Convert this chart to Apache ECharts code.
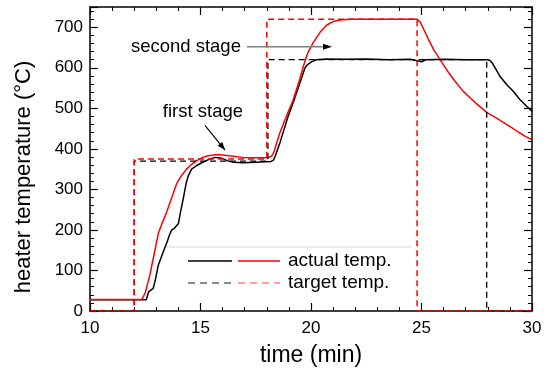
<!DOCTYPE html>
<html>
<head>
<meta charset="utf-8">
<script src="https://cdn.jsdelivr.net/npm/echarts@6/dist/echarts.min.js"></script>
<style>
html,body{margin:0;padding:0;background:#fff;}
#c{width:546px;height:372px;}
</style>
</head>
<body>
<div id="c"></div>
<script>
// ---- data ----
var xTicks = [10, 15, 20, 25, 30];
var yTicks = [0, 100, 200, 300, 400, 500, 600, 700];

var blackActualTime = [10, 12.55, 12.6, 12.65, 12.72, 12.86, 12.95, 13.09, 13.32, 13.5, 13.62, 13.7, 13.8, 14.0, 14.1, 14.22, 14.35, 14.45, 14.6, 14.83, 15.1, 15.34, 15.66, 15.97, 16.2, 16.5, 16.9, 17.5, 18.2, 18.3, 18.4, 18.6, 18.97, 19.2, 19.45, 19.73, 19.85, 20.0, 20.24, 20.7, 21.5, 22.5, 23.5, 24.5, 25.0, 25.2, 26.0, 27.0, 28.0, 28.1, 28.2, 28.35, 28.55, 28.85, 29.15, 29.45, 29.76, 30];
var blackActualTemp = [28, 28, 38, 47, 50, 56, 75, 113, 147, 172, 191, 200, 203, 216, 245, 277, 315, 334, 350, 359, 367, 373, 379, 377, 371, 367, 366, 367, 369, 372, 385, 416, 481, 515, 555, 600, 608, 614, 620, 622, 621, 622, 620, 621, 615, 620, 621, 620, 620, 618, 612, 598, 579, 559, 542, 522, 505, 493];

var redActualTime = [10, 12.35, 12.42, 12.5, 12.71, 12.9, 13.09, 13.25, 13.47, 13.7, 13.92, 14.15, 14.37, 14.6, 14.83, 15.1, 15.34, 15.8, 16.3, 16.9, 17.5, 17.9, 18.1, 18.22, 18.32, 18.45, 18.6, 18.9, 19.2, 19.45, 19.65, 19.85, 20.1, 20.4, 20.7, 21.0, 21.3, 21.8, 24.8, 24.88, 24.95, 25.1, 25.3, 25.55, 25.84, 26.24, 26.5, 26.87, 27.2, 27.5, 27.95, 28.4, 28.77, 29.1, 29.4, 29.7, 30];
var redActualTemp = [28.5, 28.5, 32, 45, 89, 140, 191, 215, 244, 280, 314, 335, 350, 362, 371, 379, 383, 386, 383, 379, 378, 378, 379, 382, 392, 415, 441, 482, 522, 565, 603, 636, 662, 687, 705, 714, 718, 720, 720, 718, 712, 695, 672, 645, 620, 587, 568, 543, 526, 511, 490, 476, 463, 452, 441, 431, 422];

var blackTargetTime = [10, 12, 12, 18.05, 18.05, 27.95, 27.95, 30];
var blackTargetTemp = [0, 0, 370, 370, 620, 620, 0, 0];
var redTargetTime = [10, 12, 12, 18, 18, 24.8, 24.8, 30];
var redTargetTemp = [0, 0, 375, 375, 720, 720, 0, 0];

var legendLabels = ['actual temp.', 'target temp.'];
var annotationLabels = ['second stage', 'first stage'];

function zip(a, b) { return a.map(function (v, i) { return [v, b[i]]; }); }

var FONT = '"Liberation Sans", Arial, sans-serif';
var chart = echarts.init(document.getElementById('c'), null, { renderer: 'canvas' });

var axisCommon = {
  axisLine: { show: true, onZero: false, lineStyle: { color: '#000', width: 1.5 } },
  axisTick: { show: true, inside: true, length: 8, lineStyle: { color: '#000', width: 1.2 } },
  minorTick: { show: true, splitNumber: 5, length: 4, lineStyle: { color: '#000', width: 1 } },
  splitLine: { show: false }
};

var option = {
  backgroundColor: '#fff',
  animation: false,
  grid: { left: 90, right: 14, top: 7, bottom: 59, containLabel: false },
  xAxis: [
    Object.assign({}, axisCommon, {
      type: 'value', min: 10, max: 30, interval: 5, position: 'bottom',
      name: 'time (min)', nameLocation: 'middle', nameGap: 33,
      nameTextStyle: { fontFamily: FONT, fontSize: 23, color: '#000' },
      axisLabel: { show: true, margin: 9, fontFamily: FONT, fontSize: 17, color: '#000' }
    }),
    Object.assign({}, axisCommon, {
      type: 'value', min: 10, max: 30, interval: 5, position: 'top',
      axisLabel: { show: false }
    })
  ],
  yAxis: [
    Object.assign({}, axisCommon, {
      type: 'value', min: 0, max: 750, interval: 100, position: 'left',
      name: 'heater temperature (°C)', nameLocation: 'middle', nameGap: 55,
      nameTextStyle: { fontFamily: FONT, fontSize: 22, color: '#000', padding: [0, 36, 0, 0] },
      axisLabel: { show: true, margin: 7, fontFamily: FONT, fontSize: 17, color: '#000', showMaxLabel: false,
        formatter: function (v) { return yTicks.indexOf(v) >= 0 ? String(v) : ''; } }
    }),
    Object.assign({}, axisCommon, {
      type: 'value', min: 0, max: 750, interval: 100, position: 'right',
      axisLabel: { show: false }
    })
  ],
  series: [
    { type: 'line', name: 'black actual', data: zip(blackActualTime, blackActualTemp), showSymbol: false,
      smooth: false, lineStyle: { color: '#000', width: 1.5, join: 'round' }, z: 2 },
    { type: 'line', name: 'red actual', data: zip(redActualTime, redActualTemp), showSymbol: false,
      smooth: false, lineStyle: { color: '#ff0000', width: 1.5, join: 'round' }, z: 3 },
    { type: 'line', name: 'black target', data: zip(blackTargetTime, blackTargetTemp), showSymbol: false,
      lineStyle: { color: '#000', width: 1.3, type: [6, 4] }, z: 4 },
    { type: 'line', name: 'red target', data: zip(redTargetTime, redTargetTemp), showSymbol: false,
      lineStyle: { color: '#ff0000', width: 1.5, type: [6, 4] }, z: 5 }
  ]
};
chart.setOption(option);

function px(t, T) { return chart.convertToPixel({ xAxisIndex: 0, yAxisIndex: 0 }, [t, T]); }
function arrowHead(from, to, len, half, color) {
  var dx = to[0] - from[0], dy = to[1] - from[1];
  var d = Math.sqrt(dx * dx + dy * dy); var ux = dx / d, uy = dy / d;
  var bx = to[0] - ux * len, by = to[1] - uy * len;
  return { type: 'polygon', shape: { points: [to, [bx - uy * half, by + ux * half], [bx + uy * half, by - ux * half]] },
    style: { fill: color }, z: 100 };
}

// annotations (anchored in data coordinates)
var secondTxt = px(14.34, 652);
var secondFrom = px(17.1, 652), secondTo = px(20.95, 652);
var firstTxt = px(15.11, 490);
var firstFrom = px(15.2, 458), firstTo = px(16.11, 397);

var graphics = [
  { type: 'text', x: secondTxt[0], y: secondTxt[1], style: { text: annotationLabels[0], font: '18.5px ' + FONT, fill: '#000', align: 'center', verticalAlign: 'middle' }, z: 100 },
  { type: 'line', shape: { x1: secondFrom[0], y1: secondFrom[1], x2: secondTo[0] - 6, y2: secondTo[1] }, style: { stroke: '#808080', lineWidth: 1.5 }, z: 100 },
  arrowHead(secondFrom, secondTo, 9, 3, '#000'),
  { type: 'text', x: firstTxt[0], y: firstTxt[1], style: { text: annotationLabels[1], font: '18.5px ' + FONT, fill: '#000', align: 'center', verticalAlign: 'middle' }, z: 100 },
  { type: 'line', shape: { x1: firstFrom[0], y1: firstFrom[1], x2: firstTo[0], y2: firstTo[1] }, style: { stroke: '#000', lineWidth: 1.2 }, z: 100 },
  arrowHead(firstFrom, firstTo, 8, 3, '#000'),
  // legend
  { type: 'line', shape: { x1: 166, y1: 247, x2: 411, y2: 247 }, style: { stroke: '#d6d6d6', lineWidth: 1 }, z: 100 },
  { type: 'line', shape: { x1: 188, y1: 261, x2: 232, y2: 261 }, style: { stroke: '#000', lineWidth: 1.5 }, z: 100 },
  { type: 'line', shape: { x1: 238, y1: 261, x2: 280, y2: 261 }, style: { stroke: '#ff0000', lineWidth: 1.5 }, z: 100 },
  { type: 'text', x: 288, y: 261, style: { text: legendLabels[0], font: '19px ' + FONT, fill: '#000', verticalAlign: 'middle' }, z: 100 },
  { type: 'line', shape: { x1: 188, y1: 283, x2: 232, y2: 283 }, style: { stroke: '#666', lineWidth: 1.3, lineDash: [7, 5] }, z: 100 },
  { type: 'line', shape: { x1: 238, y1: 283, x2: 280, y2: 283 }, style: { stroke: '#ff8080', lineWidth: 1.5, lineDash: [7, 5] }, z: 100 },
  { type: 'text', x: 288, y: 283, style: { text: legendLabels[1], font: '19px ' + FONT, fill: '#000', verticalAlign: 'middle' }, z: 100 }
];
chart.setOption({ graphic: graphics });
</script>
</body>
</html>
